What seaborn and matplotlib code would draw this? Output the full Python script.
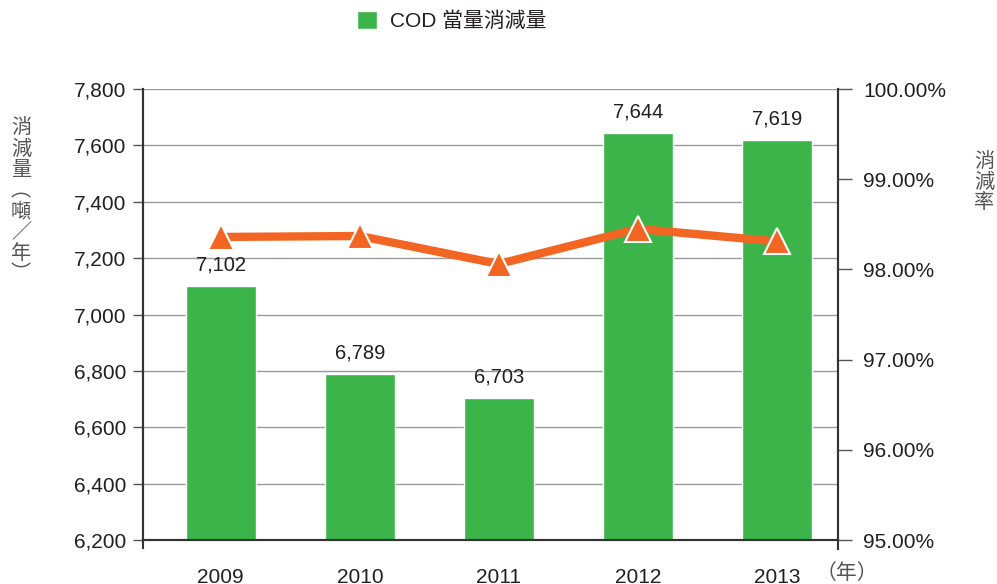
import numpy as np
import matplotlib
matplotlib.use("Agg")
import matplotlib.pyplot as plt
import seaborn as sns

# data
years = ["2009", "2010", "2011", "2012", "2013"]
cod_reduction = [7102, 6789, 6703, 7644, 7619]          # 噸/年
reduction_rate = [98.36, 98.37, 98.06, 98.45, 98.31]   # %

green = "#3BB54A"
orange = "#F26522"
txt = "#231F20"
gray_txt = "#555555"

sns.set_style("white")
plt.rcParams['font.family'] = ['Liberation Sans', 'Noto Sans CJK TC', 'DejaVu Sans']

fig = plt.figure(figsize=(9.97, 5.84), dpi=100)
ax = fig.add_axes([0.1434, 0.0753, 0.6971, 0.7723])

sns.barplot(x=years, y=cod_reduction, color=green, width=0.5, ax=ax,
            label="COD 當量消減量", saturation=1, zorder=2)
ax.set_ylim(6200, 7800)
ax.set_yticks(np.arange(6200, 7801, 200))
ax.set_yticklabels([f"{v:,}" for v in np.arange(6200, 7801, 200)])
ax.yaxis.grid(True, color="#9a9a9a", linewidth=1)
ax.set_axisbelow(True)

# bar value labels
for i, v in enumerate(cod_reduction):
    ax.text(i, v + 40, f"{v:,}", ha="center", va="bottom", fontsize=14.5, color=txt)

# x ticks on category boundaries, labels at centres
ax.set_xticks(np.arange(0.5, 4, 1))
ax.set_xticklabels([])
ax.set_xticks(range(len(years)), minor=True)
ax.set_xticklabels(years, minor=True)
ax.tick_params(axis="x", which="major", direction="out", length=5.5, width=1, color="#555555")
ax.tick_params(axis="x", which="minor", length=0, pad=20, labelsize=15, labelcolor=txt)
ax.tick_params(axis="y", direction="out", length=7, width=1, color="#555555",
               labelsize=15, labelcolor=txt, pad=5)
ax.set_xlim(-0.56, 4.44)

# second axis: reduction rate
ax2 = ax.twinx()
sns.pointplot(x=years, y=reduction_rate, ax=ax2, color=orange, markers="^",
              linestyles="-", markersize=19, linewidth=6, zorder=3)
for ln in ax2.lines:
    ln.set_markeredgecolor("white")
    ln.set_markeredgewidth(1.5)
ax2.set_ylim(95, 100)
ax2.set_yticks(np.arange(95, 100.01, 1))
ax2.set_yticklabels([f"{v:.2f}%" for v in np.arange(95, 100.01, 1)])
ax2.tick_params(axis="y", direction="out", length=10, width=1, color="#555555",
                labelsize=15, labelcolor=txt, pad=8)
ax2.set_xlim(-0.56, 4.44)
ax2.set_ylabel("")
ax2.set_xlabel("")

for a in (ax, ax2):
    a.spines["top"].set_visible(False)
    for s in ("left", "right", "bottom"):
        a.spines[s].set_color("#333333")
        a.spines[s].set_linewidth(1.5)
ax.spines["left"].set_bounds(6200 - 30, 7800)
ax2.spines["right"].set_bounds(95 - 0.1, 100)

# axis titles written vertically
fig.text(0.021, 0.656, "消\n減\n量\n︵\n噸\n／\n年\n︶", ha="center", va="center",
         fontsize=14.5, color=gray_txt, linespacing=1.12)
fig.text(0.987, 0.688, "消\n減\n率", ha="center", va="center",
         fontsize=14.5, color=gray_txt, linespacing=1.05)
fig.text(0.818, 0.036, "（年）", ha="left", va="top", fontsize=15, color=gray_txt)

ax.legend(loc="center", bbox_to_anchor=(0.453, 0.964), bbox_transform=fig.transFigure,
          frameon=False, fontsize=15, handlelength=0.95, handleheight=0.95,
          handletextpad=0.6, labelcolor=txt)

fig.savefig("out.png", dpi=100)
